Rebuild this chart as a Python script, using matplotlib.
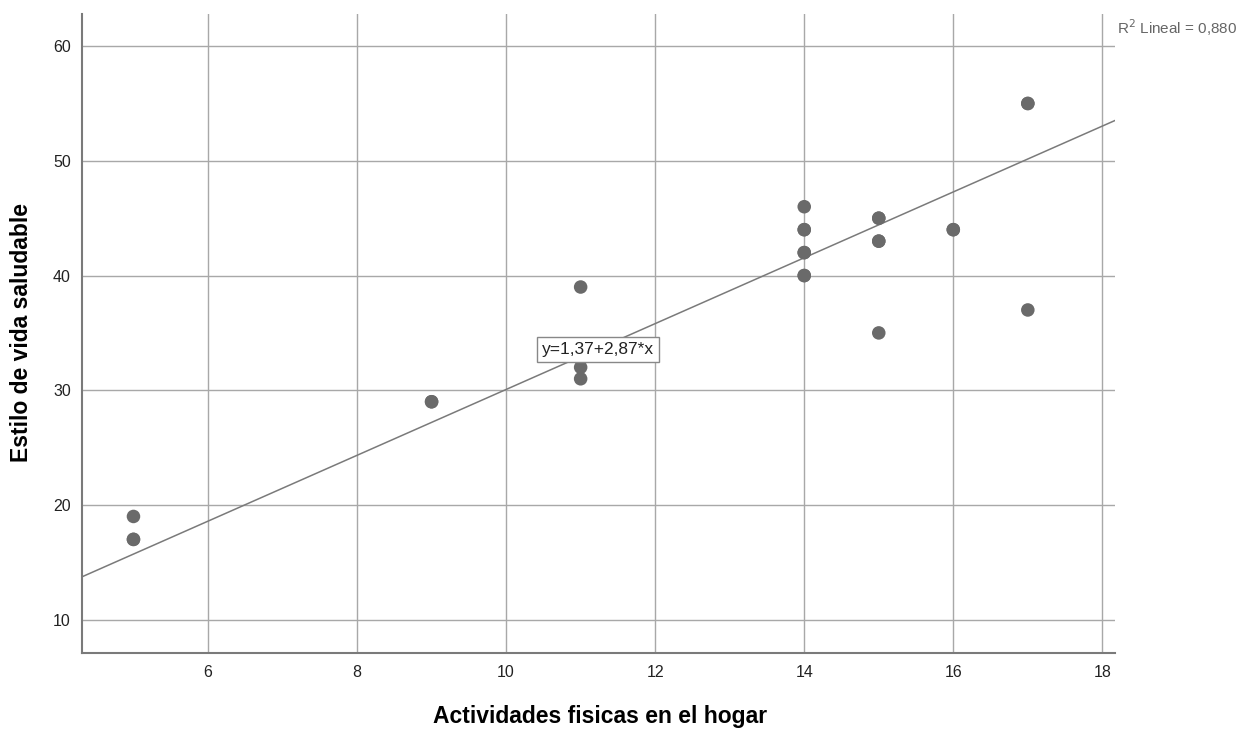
import matplotlib
matplotlib.use("Agg")
import matplotlib.pyplot as plt
import numpy as np

plt.rcParams['font.family'] = ['Liberation Sans', 'DejaVu Sans']

# Data (duplicates drawn where markers overlap)
actividades = [5, 5, 5, 9, 9, 11, 11, 11, 14, 14, 14, 14, 14, 14, 14,
               15, 15, 15, 15, 15, 16, 16, 17, 17, 17]
estilo = [19, 17, 17, 29, 29, 39, 32, 31, 46, 44, 44, 42, 42, 40, 40,
          45, 45, 43, 43, 35, 44, 44, 55, 55, 37]

intercept = 1.37
slope = 2.87
r2_text = "R$^2$ Lineal = 0,880"
eq_text = "y=1,37+2,87*x"
x_ticks = [6, 8, 10, 12, 14, 16, 18]
y_ticks = [10, 20, 30, 40, 50, 60]

fig = plt.figure(figsize=(12.45, 7.29), dpi=100)
ax = fig.add_axes([0.0659, 0.1043, 0.8297, 0.8765])

xmin, xmax = 4.31, 18.17
ymin, ymax = 7.1, 62.8
ax.set_xlim(xmin, xmax)
ax.set_ylim(ymin, ymax)

grid_c = '#a8a8a8'
for xv in x_ticks:
    ax.axvline(xv, color=grid_c, lw=1.0, zorder=1)
for yv in y_ticks:
    ax.axhline(yv, color=grid_c, lw=1.0, zorder=1)

xs = np.array([xmin, xmax])
ax.plot(xs, intercept + slope * xs, color='#7a7a7a', lw=1.1, zorder=2)

ax.scatter(actividades, estilo, s=95, color='#6a6a6a', edgecolors='none',
           zorder=3)

ax.text(11.23, 33.55, eq_text, ha='center', va='center', fontsize=12.5,
        color='#222222', zorder=4,
        bbox=dict(boxstyle='square,pad=0.28', fc='white', ec='#888888', lw=1))

ax.set_xticks(x_ticks)
ax.set_yticks(y_ticks)
ax.tick_params(axis='both', length=0, labelsize=11.5, colors='#222222')
ax.tick_params(axis='y', pad=8)
ax.tick_params(axis='x', pad=9)

for s in ['top', 'right']:
    ax.spines[s].set_visible(False)
for s in ['left', 'bottom']:
    ax.spines[s].set_color('#7a7a7a')
    ax.spines[s].set_linewidth(1.5)

fig.text(600 / 1245, 1 - 716 / 729, 'Actividades fisicas en el hogar',
         fontsize=16.5, fontweight='bold', ha='center', va='center')
fig.text(22 / 1245, 1 - 333 / 729, 'Estilo de vida saludable',
         fontsize=16.5, fontweight='bold', ha='center', va='center',
         rotation=90)

fig.text(0.8972, 0.962, r2_text, fontsize=11, color='#666666',
         ha='left', va='center')

fig.savefig('out.png', dpi=100)
